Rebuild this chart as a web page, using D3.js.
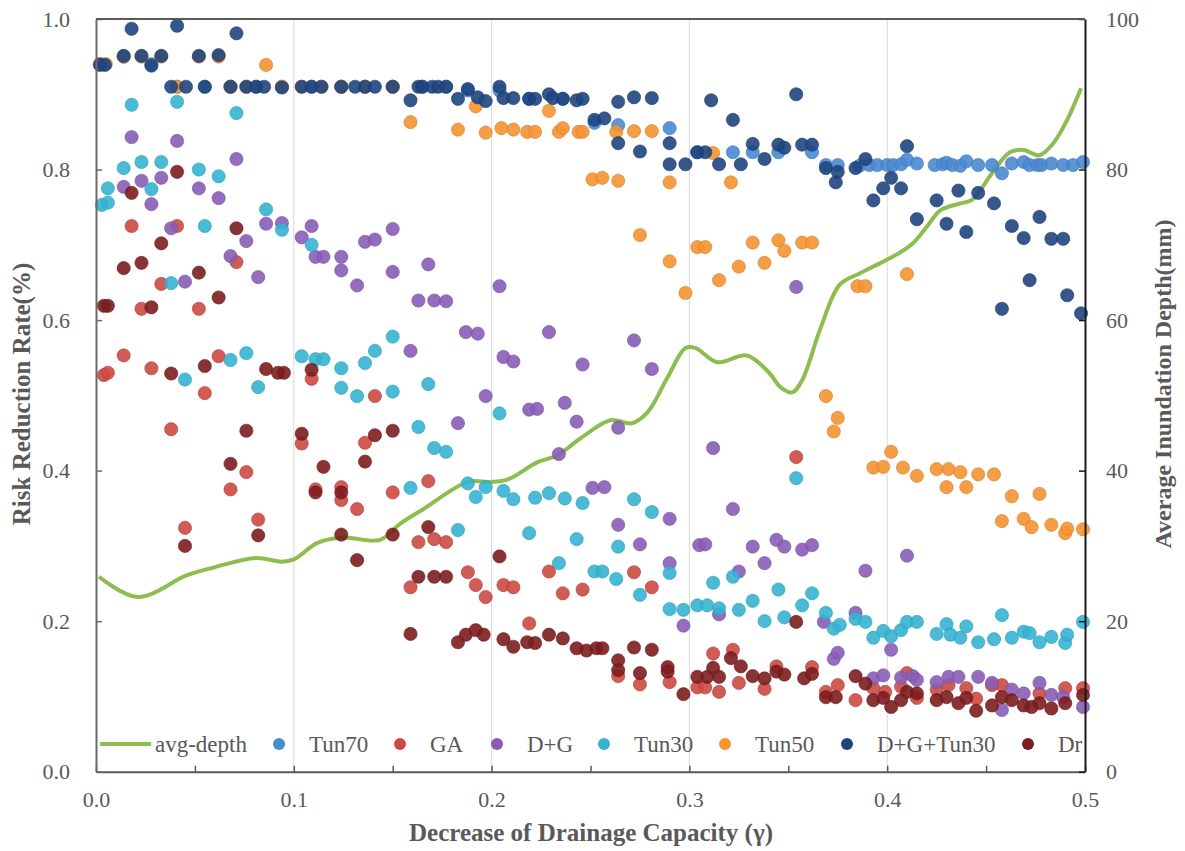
<!DOCTYPE html>
<html><head><meta charset="utf-8">
<script src="https://cdn.jsdelivr.net/npm/d3@7"></script>
<style>
body{margin:0;background:#fff}
text{font-family:"Liberation Serif","Times New Roman",serif}
</style>
</head><body>
<svg id="c" width="1185" height="851" font-family="Liberation Serif, Times New Roman, serif"></svg>
<script>
// ---------------- DATA ----------------
const seriesNames = ["Tun70","GA","D+G","Tun30","Tun50","D+G+Tun30","Dr"];
const xTicks = [0,0.1,0.2,0.3,0.4,0.5];
const yTicks = [0,0.2,0.4,0.6,0.8,1.0];
const y2Ticks = [0,20,40,60,80,100];

const avgDepth = [[0.0015,25.9],[0.021,23.2],[0.046,26.1],[0.059,27.1],[0.081,28.4],[0.094,27.9],[0.100,28.2],[0.112,30.4],[0.125,31.1],[0.1436,30.8],[0.154,33.0],[0.165,34.8],[0.188,38.5],[0.199,38.5],[0.208,38.8],[0.223,41.1],[0.233,42.0],[0.245,44.3],[0.260,46.7],[0.271,46.3],[0.279,47.8],[0.289,52.4],[0.298,56.3],[0.303,56.3],[0.314,54.4],[0.329,55.3],[0.340,53.1],[0.346,51.1],[0.352,50.4],[0.357,52.0],[0.366,58.7],[0.376,64.7],[0.386,66.2],[0.396,67.5],[0.406,68.9],[0.413,70.2],[0.420,72.4],[0.427,74.6],[0.437,75.5],[0.443,76.0],[0.453,79.5],[0.462,82.3],[0.469,82.6],[0.477,81.9],[0.484,83.5],[0.491,86.6],[0.498,90.8]];

const tun70 = [[0.002,0.94],[0.014,0.95],[0.028,0.94],[0.041,0.91],[0.055,0.91],[0.068,0.91],[0.081,0.91],[0.094,0.91],[0.109,0.91],[0.124,0.91],[0.136,0.91],[0.150,0.91],[0.165,0.91],[0.177,0.91],[0.188,0.905],[0.204,0.905],[0.219,0.894],[0.236,0.894],[0.252,0.862],[0.264,0.859],[0.290,0.855],[0.304,0.823],[0.322,0.823],[0.332,0.823],[0.345,0.823],[0.362,0.823],[0.369,0.806],[0.375,0.806],[0.386,0.805],[0.391,0.806],[0.395,0.806],[0.400,0.806],[0.403,0.806],[0.407,0.807],[0.410,0.813],[0.415,0.808],[0.424,0.806],[0.428,0.807],[0.430,0.809],[0.433,0.806],[0.437,0.805],[0.440,0.811],[0.446,0.806],[0.453,0.806],[0.458,0.795],[0.463,0.808],[0.469,0.810],[0.472,0.806],[0.476,0.806],[0.478,0.806],[0.483,0.808],[0.489,0.806],[0.494,0.806],[0.499,0.810]];

const ga = [[0.004,0.527],[0.006,0.530],[0.014,0.553],[0.018,0.725],[0.023,0.615],[0.028,0.536],[0.033,0.648],[0.038,0.455],[0.041,0.725],[0.045,0.324],[0.052,0.615],[0.055,0.503],[0.062,0.552],[0.068,0.375],[0.071,0.677],[0.076,0.398],[0.082,0.335],[0.104,0.436],[0.109,0.522],[0.111,0.375],[0.124,0.378],[0.124,0.361],[0.132,0.349],[0.136,0.437],[0.141,0.499],[0.150,0.371],[0.159,0.245],[0.163,0.305],[0.168,0.386],[0.171,0.309],[0.177,0.305],[0.188,0.265],[0.192,0.248],[0.197,0.232],[0.206,0.248],[0.211,0.245],[0.219,0.197],[0.229,0.266],[0.236,0.237],[0.246,0.242],[0.264,0.127],[0.272,0.265],[0.275,0.116],[0.281,0.245],[0.290,0.119],[0.304,0.112],[0.308,0.112],[0.312,0.157],[0.315,0.106],[0.322,0.162],[0.325,0.118],[0.338,0.110],[0.344,0.140],[0.354,0.418],[0.362,0.139],[0.369,0.106],[0.375,0.115],[0.384,0.095],[0.393,0.111],[0.399,0.106],[0.407,0.113],[0.410,0.131],[0.415,0.098],[0.425,0.109],[0.431,0.115],[0.440,0.111],[0.445,0.097],[0.453,0.115],[0.458,0.115],[0.477,0.104],[0.490,0.111],[0.499,0.111]];

const dg = [[0.014,0.777],[0.018,0.843],[0.023,0.785],[0.028,0.754],[0.033,0.789],[0.038,0.722],[0.041,0.838],[0.045,0.651],[0.052,0.775],[0.062,0.762],[0.068,0.685],[0.071,0.814],[0.076,0.705],[0.082,0.657],[0.086,0.728],[0.094,0.729],[0.104,0.710],[0.109,0.725],[0.111,0.684],[0.115,0.684],[0.124,0.684],[0.124,0.666],[0.132,0.646],[0.136,0.704],[0.141,0.707],[0.150,0.721],[0.150,0.664],[0.159,0.559],[0.163,0.626],[0.168,0.674],[0.171,0.626],[0.177,0.625],[0.183,0.463],[0.187,0.584],[0.193,0.582],[0.197,0.499],[0.204,0.645],[0.206,0.551],[0.211,0.545],[0.219,0.481],[0.223,0.482],[0.229,0.584],[0.234,0.422],[0.237,0.490],[0.243,0.465],[0.246,0.541],[0.251,0.377],[0.257,0.378],[0.264,0.457],[0.264,0.328],[0.272,0.573],[0.275,0.302],[0.281,0.535],[0.290,0.336],[0.290,0.277],[0.297,0.194],[0.305,0.301],[0.308,0.302],[0.312,0.430],[0.315,0.209],[0.322,0.349],[0.325,0.266],[0.332,0.299],[0.338,0.277],[0.344,0.308],[0.348,0.299],[0.354,0.644],[0.357,0.295],[0.362,0.301],[0.368,0.199],[0.373,0.150],[0.375,0.158],[0.384,0.211],[0.389,0.267],[0.393,0.124],[0.398,0.128],[0.402,0.162],[0.407,0.125],[0.410,0.287],[0.413,0.127],[0.415,0.122],[0.425,0.119],[0.431,0.126],[0.436,0.126],[0.446,0.126],[0.453,0.118],[0.458,0.082],[0.463,0.109],[0.469,0.104],[0.477,0.118],[0.483,0.102],[0.489,0.099],[0.499,0.086]];

const tun30 = [[0.003,0.753],[0.006,0.756],[0.006,0.775],[0.014,0.802],[0.018,0.886],[0.023,0.810],[0.028,0.774],[0.033,0.810],[0.038,0.649],[0.041,0.890],[0.045,0.521],[0.052,0.800],[0.055,0.725],[0.062,0.791],[0.068,0.547],[0.071,0.875],[0.076,0.556],[0.082,0.511],[0.086,0.747],[0.094,0.720],[0.104,0.552],[0.109,0.700],[0.111,0.548],[0.115,0.548],[0.124,0.536],[0.124,0.510],[0.132,0.499],[0.136,0.543],[0.141,0.559],[0.150,0.578],[0.150,0.505],[0.159,0.377],[0.163,0.458],[0.168,0.515],[0.171,0.430],[0.177,0.425],[0.183,0.321],[0.188,0.383],[0.192,0.365],[0.197,0.378],[0.204,0.476],[0.206,0.373],[0.211,0.362],[0.219,0.317],[0.222,0.364],[0.229,0.370],[0.234,0.277],[0.237,0.363],[0.243,0.309],[0.246,0.357],[0.252,0.266],[0.256,0.266],[0.263,0.256],[0.264,0.299],[0.272,0.362],[0.275,0.235],[0.281,0.345],[0.290,0.264],[0.290,0.216],[0.297,0.215],[0.304,0.221],[0.309,0.221],[0.312,0.251],[0.315,0.217],[0.322,0.259],[0.325,0.215],[0.332,0.227],[0.338,0.200],[0.345,0.242],[0.348,0.205],[0.354,0.390],[0.357,0.221],[0.362,0.237],[0.369,0.211],[0.373,0.190],[0.376,0.195],[0.384,0.203],[0.389,0.199],[0.393,0.178],[0.398,0.187],[0.402,0.180],[0.407,0.188],[0.410,0.199],[0.415,0.199],[0.425,0.183],[0.430,0.196],[0.432,0.182],[0.437,0.178],[0.440,0.193],[0.446,0.172],[0.454,0.176],[0.458,0.208],[0.463,0.178],[0.469,0.186],[0.472,0.184],[0.477,0.172],[0.483,0.179],[0.490,0.171],[0.491,0.182],[0.499,0.199]];

const tun50 = [[0.002,0.94],[0.005,0.94],[0.014,0.95],[0.023,0.95],[0.033,0.95],[0.041,0.91],[0.052,0.95],[0.062,0.95],[0.068,0.91],[0.076,0.91],[0.086,0.939],[0.094,0.91],[0.104,0.91],[0.114,0.91],[0.124,0.91],[0.136,0.91],[0.150,0.91],[0.159,0.863],[0.183,0.853],[0.192,0.884],[0.197,0.849],[0.205,0.855],[0.211,0.853],[0.218,0.850],[0.222,0.850],[0.229,0.878],[0.234,0.850],[0.236,0.855],[0.244,0.850],[0.246,0.850],[0.251,0.787],[0.256,0.789],[0.263,0.850],[0.264,0.785],[0.272,0.851],[0.275,0.713],[0.281,0.851],[0.290,0.783],[0.290,0.678],[0.298,0.636],[0.304,0.697],[0.308,0.697],[0.312,0.822],[0.315,0.653],[0.321,0.783],[0.325,0.671],[0.332,0.703],[0.338,0.676],[0.345,0.706],[0.348,0.692],[0.357,0.703],[0.362,0.703],[0.369,0.499],[0.373,0.452],[0.375,0.470],[0.385,0.645],[0.389,0.645],[0.393,0.404],[0.398,0.405],[0.402,0.425],[0.408,0.404],[0.410,0.661],[0.415,0.393],[0.425,0.402],[0.430,0.378],[0.431,0.402],[0.437,0.398],[0.440,0.378],[0.446,0.395],[0.454,0.395],[0.458,0.333],[0.463,0.366],[0.469,0.336],[0.473,0.325],[0.477,0.369],[0.483,0.328],[0.490,0.317],[0.491,0.323],[0.499,0.322]];

const dgTun30 = [[0.002,0.939],[0.0045,0.939],[0.014,0.951],[0.018,0.987],[0.023,0.951],[0.028,0.938],[0.033,0.951],[0.038,0.910],[0.041,0.991],[0.0455,0.910],[0.052,0.951],[0.055,0.910],[0.062,0.952],[0.068,0.910],[0.071,0.981],[0.076,0.910],[0.081,0.910],[0.085,0.910],[0.094,0.909],[0.104,0.910],[0.109,0.910],[0.114,0.910],[0.124,0.910],[0.131,0.910],[0.136,0.910],[0.141,0.910],[0.150,0.910],[0.159,0.892],[0.163,0.910],[0.165,0.910],[0.170,0.910],[0.173,0.910],[0.177,0.910],[0.183,0.894],[0.188,0.907],[0.193,0.896],[0.197,0.891],[0.204,0.910],[0.206,0.895],[0.211,0.895],[0.219,0.894],[0.222,0.894],[0.229,0.900],[0.231,0.895],[0.236,0.894],[0.243,0.892],[0.246,0.894],[0.252,0.866],[0.257,0.868],[0.264,0.890],[0.264,0.835],[0.272,0.896],[0.275,0.824],[0.281,0.895],[0.290,0.835],[0.290,0.807],[0.298,0.807],[0.304,0.823],[0.308,0.823],[0.311,0.892],[0.315,0.807],[0.322,0.866],[0.326,0.807],[0.332,0.834],[0.338,0.814],[0.345,0.833],[0.348,0.829],[0.354,0.900],[0.357,0.833],[0.362,0.833],[0.369,0.802],[0.374,0.783],[0.375,0.797],[0.384,0.802],[0.389,0.814],[0.393,0.759],[0.398,0.775],[0.402,0.789],[0.407,0.775],[0.410,0.831],[0.415,0.734],[0.425,0.759],[0.430,0.728],[0.436,0.772],[0.440,0.717],[0.446,0.769],[0.454,0.755],[0.458,0.615],[0.463,0.725],[0.469,0.709],[0.472,0.653],[0.477,0.737],[0.483,0.708],[0.489,0.708],[0.491,0.633],[0.498,0.609]];

const dr = [[0.004,0.619],[0.006,0.619],[0.014,0.669],[0.018,0.769],[0.023,0.676],[0.028,0.617],[0.033,0.702],[0.038,0.529],[0.041,0.797],[0.045,0.300],[0.052,0.663],[0.055,0.539],[0.062,0.630],[0.068,0.409],[0.071,0.722],[0.076,0.453],[0.082,0.314],[0.086,0.535],[0.092,0.530],[0.095,0.530],[0.104,0.449],[0.109,0.534],[0.111,0.371],[0.115,0.405],[0.124,0.371],[0.124,0.315],[0.132,0.281],[0.136,0.412],[0.141,0.447],[0.150,0.453],[0.150,0.315],[0.159,0.183],[0.163,0.259],[0.168,0.325],[0.171,0.259],[0.177,0.259],[0.183,0.172],[0.187,0.182],[0.192,0.188],[0.196,0.182],[0.204,0.286],[0.206,0.176],[0.211,0.166],[0.218,0.172],[0.222,0.171],[0.229,0.182],[0.236,0.177],[0.243,0.164],[0.248,0.161],[0.253,0.164],[0.256,0.164],[0.264,0.148],[0.264,0.135],[0.272,0.165],[0.275,0.131],[0.281,0.162],[0.289,0.139],[0.289,0.133],[0.297,0.103],[0.304,0.126],[0.309,0.126],[0.312,0.138],[0.315,0.126],[0.321,0.151],[0.326,0.140],[0.332,0.127],[0.338,0.124],[0.344,0.133],[0.348,0.129],[0.354,0.199],[0.358,0.124],[0.362,0.130],[0.369,0.099],[0.374,0.099],[0.384,0.127],[0.389,0.117],[0.393,0.095],[0.398,0.098],[0.402,0.086],[0.407,0.095],[0.410,0.106],[0.415,0.104],[0.425,0.095],[0.430,0.099],[0.436,0.091],[0.440,0.098],[0.445,0.081],[0.453,0.088],[0.458,0.099],[0.463,0.095],[0.469,0.088],[0.473,0.086],[0.477,0.091],[0.483,0.084],[0.490,0.091],[0.499,0.102]];

const seriesData = [tun70, ga, dg, tun30, tun50, dgTun30, dr];
const seriesColors = ["#4a8ad0","#cc4a43","#8a5db7","#35b4d2","#f59331","#1f457f","#7c1d1f"];
const lineColor = "#8dbd4e";

// ---------------- CHART ----------------
const FONT = '"Liberation Serif","Times New Roman",serif';
const svg = d3.select("#c");
const x = d3.scaleLinear().domain([0,0.5]).range([96,1085]);
const y = d3.scaleLinear().domain([0,1]).range([771.7,19]);
const y2 = d3.scaleLinear().domain([0,100]).range([771.7,19]);
const tickColor = "#595959";

// gridlines
svg.append("g").selectAll("line").data(xTicks.slice(1,-1)).join("line")
  .attr("x1",d=>x(d)).attr("x2",d=>x(d)).attr("y1",y(0)).attr("y2",y(1))
  .attr("stroke","#d9d9d9").attr("stroke-width",1);

// avg-depth line
svg.append("path").datum(avgDepth)
  .attr("fill","none").attr("stroke",lineColor).attr("stroke-width",4)
  .attr("stroke-linejoin","round")
  .attr("d", d3.line().x(d=>x(d[0])).y(d=>y2(d[1])).curve(d3.curveCatmullRom.alpha(0.5)));

// scatter series
seriesData.forEach((arr,i)=>{
  svg.append("g").selectAll("circle").data(arr).join("circle")
    .attr("cx",d=>x(d[0])).attr("cy",d=>y(d[1])).attr("r",6.6)
    .attr("fill",seriesColors[i]).attr("fill-opacity",0.9)
    .attr("stroke",d3.color(seriesColors[i]).darker(0.4)).attr("stroke-opacity",0.6).attr("stroke-width",1);
});

// axes
function styleAxis(g, col){
  g.attr("font-family",FONT);
  g.select(".domain").attr("stroke",col).attr("stroke-width",2);
  g.selectAll(".tick line").attr("stroke",col).attr("stroke-width",1.5);
  g.selectAll(".tick text").attr("fill",tickColor).style("font-size","22px").style("font-family",FONT);
}
const xAxis = d3.axisBottom(x).tickValues(d3.range(0,0.5001,0.05))
  .tickSizeInner(-6).tickSizeOuter(0).tickPadding(20)
  .tickFormat(d=> (Math.round(d*100)%10===0) ? d3.format(".1f")(d) : "");
svg.append("g").attr("transform",`translate(0,${y(0)})`).call(xAxis).call(g=>styleAxis(g,"#595959"));

const yAxis = d3.axisLeft(y).tickValues(yTicks).tickSizeInner(-6).tickSizeOuter(0).tickPadding(26).tickFormat(d3.format(".1f"));
svg.append("g").attr("transform",`translate(${x(0)},0)`).call(yAxis).call(g=>styleAxis(g,"#6b6b6b"));

const y2Axis = d3.axisRight(y2).tickValues(y2Ticks).tickSizeInner(-6).tickSizeOuter(0).tickPadding(21);
svg.append("g").attr("transform",`translate(${x(0.5)},0)`).call(y2Axis).call(g=>styleAxis(g,"#1a1a1a"));

// top border
svg.append("line").attr("x1",x(0)).attr("x2",x(0.5)).attr("y1",y(1)).attr("y2",y(1))
  .attr("stroke","#595959").attr("stroke-width",2);

// axis titles
svg.append("text").attr("transform",`translate(30,${394}) rotate(-90)`)
  .attr("text-anchor","middle").attr("fill",tickColor).style("font-family",FONT).style("font-weight","bold").style("font-size","25px")
  .text("Risk Reduction Rate(%)");
svg.append("text").attr("transform",`translate(1171,${384}) rotate(-90)`)
  .attr("text-anchor","middle").attr("fill",tickColor).style("font-family",FONT).style("font-weight","bold").style("font-size","24px")
  .text("Average Inundation Depth(mm)");
svg.append("text").attr("x",591).attr("y",841)
  .attr("text-anchor","middle").attr("fill",tickColor).style("font-family",FONT).style("font-weight","bold").style("font-size","25px")
  .text("Decrease of Drainage Capacity (γ)");

// legend
const legY = 744;
const legMarkX = [279,400,497,604,725,847,1028];
const leg = svg.append("g").style("font-family",FONT);
leg.append("line").attr("x1",100).attr("x2",151).attr("y1",legY).attr("y2",legY)
  .attr("stroke",lineColor).attr("stroke-width",4);
leg.append("text").attr("x",155).attr("y",legY).attr("dy","0.33em").attr("fill",tickColor)
  .style("font-size","23px").text("avg-depth");
seriesNames.forEach((n,i)=>{
  leg.append("circle").attr("cx",legMarkX[i]).attr("cy",legY).attr("r",6).attr("fill",seriesColors[i]);
  leg.append("text").attr("x",legMarkX[i]+30).attr("y",legY).attr("dy","0.33em").attr("fill",tickColor)
    .style("font-size","23px").text(n);
});
</script>
</body></html>
